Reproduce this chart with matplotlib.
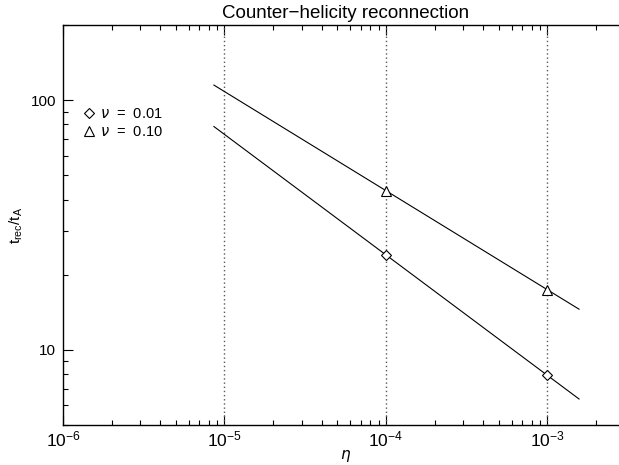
import matplotlib
matplotlib.use("Agg")
import matplotlib.pyplot as plt
import numpy as np
from matplotlib.ticker import LogLocator, NullFormatter, ScalarFormatter

plt.rcParams["font.family"] = ["Liberation Sans", "DejaVu Sans"]
plt.rcParams["mathtext.fontset"] = "custom"
plt.rcParams["mathtext.rm"] = "Liberation Sans"
plt.rcParams["mathtext.it"] = "DejaVu Sans:italic"

# values
eta = [1e-4, 1e-3]
t_rec_nu001 = [24.0, 7.9]
t_rec_nu010 = [43.4, 17.4]
fit_eta_range = [8.6e-6, 1.57e-3]
grid_eta = [1e-5, 1e-4, 1e-3]


def power_law_line(x, y, x_range):
    # straight line through the points in log-log space
    slope, icpt = np.polyfit(np.log10(x), np.log10(y), 1)
    xs = np.array(x_range)
    return xs, 10 ** (icpt + slope * np.log10(xs))


fig = plt.figure(figsize=(6.19, 4.65), dpi=100)
ax = fig.add_axes([63 / 619, 40 / 465, 566 / 619, 400 / 465])

for g in grid_eta:
    ax.axvline(g, color="0.35", lw=1.0, ls=(0, (1, 2)))

for t in (t_rec_nu001, t_rec_nu010):
    xs, ys = power_law_line(eta, t, fit_eta_range)
    ax.plot(xs, ys, color="black", lw=0.8)

ax.plot(eta, t_rec_nu001, ls="none", marker="D", ms=5, mfc="white",
        mec="black", mew=0.8, label=r"$\nu$  =  0.01")
ax.plot(eta, t_rec_nu010, ls="none", marker="^", ms=7, mfc="white",
        mec="black", mew=0.8, label=r"$\nu$  =  0.10")

ax.set_xscale("log")
ax.set_yscale("log")
ax.set_xlim(1e-6, 3.2e-3)
ax.set_ylim(5, 200)

ax.xaxis.set_major_locator(LogLocator(base=10, numticks=10))
ax.xaxis.set_minor_locator(LogLocator(base=10, subs=np.arange(2, 10), numticks=20))
ax.xaxis.set_minor_formatter(NullFormatter())
ax.yaxis.set_major_locator(LogLocator(base=10, numticks=10))
ax.yaxis.set_major_formatter(ScalarFormatter())
ax.yaxis.set_minor_locator(LogLocator(base=10, subs=np.arange(2, 10), numticks=20))
ax.yaxis.set_minor_formatter(NullFormatter())

ax.tick_params(which="both", direction="in", top=True, right=True,
               width=0.8, labelsize=11, pad=5)
ax.tick_params(axis="x", pad=3, labelsize=12.5)
ax.tick_params(which="major", length=7.5)
ax.tick_params(which="minor", length=3.8)
for s in ax.spines.values():
    s.set_linewidth(1.0)

ax.set_title("Counter\u2212helicity reconnection", fontsize=13.5, pad=5)
ax.set_xlabel(r"$\eta$", fontsize=11, labelpad=-1)
ax.set_ylabel(r"$\mathrm{t_{rec}/t_A}$", fontsize=11, labelpad=4)

ax.legend(loc="upper left", bbox_to_anchor=(0.035, 0.795), frameon=False,
          handlelength=0.8, handletextpad=0.4, labelspacing=0.3,
          borderpad=0, borderaxespad=0, fontsize=10.5)

fig.savefig("out.png", dpi=100)
